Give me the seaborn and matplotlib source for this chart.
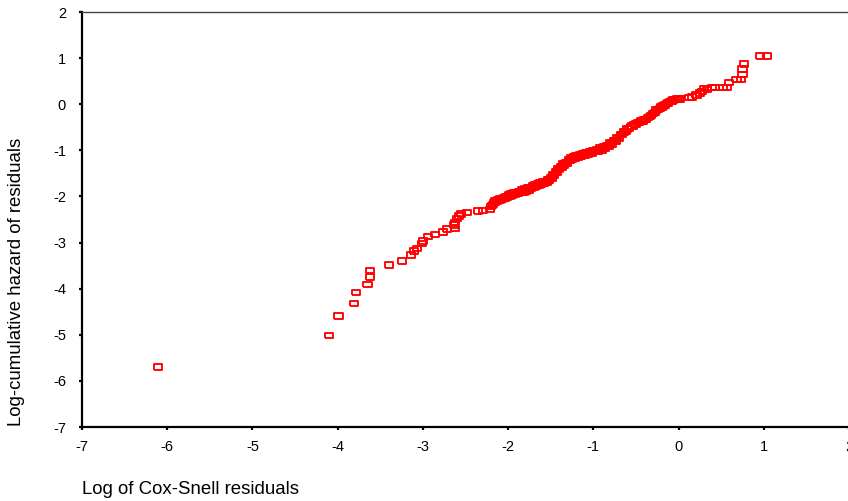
import numpy as np
import pandas as pd
import matplotlib
matplotlib.use("Agg")
import matplotlib.pyplot as plt
import seaborn as sns

# Log of Cox-Snell residuals (x) and log cumulative hazard of the residuals (y)
log_cox_snell = [
    -6.11, -4.10, -3.99, -3.81, -3.78, -3.65, -3.62, -3.62, -3.40, -3.24,
    -3.14, -3.10, -3.07, -3.01, -3.00, -2.94, -2.86, -2.76, -2.72, -2.62,
    -2.63, -2.62, -2.60, -2.58, -2.55, -2.48, -2.35, -2.29, -2.21, -2.20,
    -2.18, -2.16, -2.13, -2.10, -2.07, -2.04, -2.01, -1.98, -1.95, -1.92,
    -1.89, -1.85, -1.82, -1.79, -1.76, -1.73, -1.70, -1.67, -1.64, -1.61,
    -1.58, -1.55, -1.52, -1.49, -1.46, -1.43, -1.40, -1.37, -1.34, -1.31,
    -1.28, -1.25, -1.22, -1.18, -1.14, -1.10, -1.06, -1.02, -0.98, -0.94,
    -0.90, -0.86, -0.82, -0.78, -0.74, -0.70, -0.66, -0.62, -0.58, -0.54,
    -0.50, -0.46, -0.42, -0.38, -0.34, -0.30, -0.26, -0.22, -0.18, -0.14,
    -0.10, -0.06, -0.02, 0.02, 0.12, 0.16, 0.21, 0.25, 0.28, 0.30,
    0.33, 0.39, 0.43, 0.52, 0.57, 0.59, 0.68, 0.73, 0.75, 0.75,
    0.77, 0.96, 1.04,
    -2.19, -2.15, -2.12, -2.09, -2.05, -2.02, -1.99, -1.96, -1.93, -1.90,
    -1.87, -1.84, -1.80, -1.77, -1.74, -1.71, -1.68, -1.65, -1.62, -1.59,
    -1.56, -1.53, -1.50, -1.47, -1.44, -1.41, -1.38, -1.35, -1.32, -1.29,
    -1.26, -1.23, -1.20, -1.16, -1.12, -1.08, -1.04, -1.00, -0.96, -0.92,
    -0.88, -0.84, -0.80, -0.76, -0.72, -0.68, -0.64, -0.60, -0.56, -0.52,
    -0.48, -0.44, -0.40, -0.36, -0.32, -0.28, -0.24, -0.20, -0.16, -0.12,
    -0.08, -0.04, 0.00,
]
log_cum_hazard = [
    -5.70, -5.01, -4.59, -4.32, -4.08, -3.91, -3.75, -3.61, -3.49, -3.40,
    -3.27, -3.18, -3.13, -3.02, -2.97, -2.87, -2.83, -2.77, -2.71, -2.69,
    -2.62, -2.56, -2.48, -2.42, -2.38, -2.35, -2.32, -2.31, -2.28, -2.22,
    -2.17, -2.13, -2.11, -2.09, -2.06, -2.04, -2.02, -2.00, -1.98, -1.96,
    -1.94, -1.92, -1.90, -1.88, -1.86, -1.83, -1.80, -1.78, -1.76, -1.74,
    -1.72, -1.70, -1.66, -1.60, -1.54, -1.47, -1.42, -1.37, -1.32, -1.27,
    -1.22, -1.19, -1.17, -1.15, -1.13, -1.11, -1.09, -1.06, -1.03, -1.01,
    -0.99, -0.96, -0.92, -0.86, -0.80, -0.73, -0.66, -0.59, -0.53, -0.47,
    -0.43, -0.40, -0.37, -0.33, -0.27, -0.20, -0.13, -0.09, -0.04, 0.02,
    0.06, 0.09, 0.11, 0.11, 0.14, 0.16, 0.20, 0.24, 0.27, 0.34,
    0.32, 0.36, 0.36, 0.36, 0.36, 0.47, 0.54, 0.54, 0.65, 0.76,
    0.87, 1.05, 1.05,
    -2.20, -2.10, -2.08, -2.05, -2.03, -2.00, -1.97, -1.95, -1.93, -1.91,
    -1.89, -1.86, -1.84, -1.82, -1.80, -1.77, -1.75, -1.73, -1.71, -1.69,
    -1.68, -1.64, -1.59, -1.52, -1.47, -1.40, -1.36, -1.30, -1.26, -1.21,
    -1.17, -1.14, -1.12, -1.10, -1.08, -1.06, -1.04, -1.00, -0.98, -0.95,
    -0.92, -0.89, -0.84, -0.79, -0.72, -0.66, -0.60, -0.54, -0.48, -0.44,
    -0.40, -0.36, -0.33, -0.29, -0.24, -0.18, -0.12, -0.06, -0.02, 0.03,
    0.07, 0.10, 0.12,
]

x_ticks = [-7, -6, -5, -4, -3, -2, -1, 0, 1, 2]
y_ticks = [-7, -6, -5, -4, -3, -2, -1, 0, 1, 2]

df = pd.DataFrame({"x": log_cox_snell, "y": log_cum_hazard})

sns.set_style("white")
plt.rcParams["font.family"] = ["Liberation Sans", "DejaVu Sans"]

fig = plt.figure(figsize=(8.48, 5.01), dpi=100)
ax = fig.add_axes([82 / 848, 74 / 501, 767 / 848, 415 / 501])

# hollow, slightly wide rectangle marker
rect = [(-0.7, -0.47), (0.7, -0.47), (0.7, 0.47), (-0.7, 0.47), (-0.7, -0.47)]
sns.scatterplot(data=df, x="x", y="y", ax=ax, marker=rect, s=34,
                facecolor="none", edgecolor="#ff0000", linewidth=1.35,
                legend=False)

ax.set_xlim(-7, 2)
ax.set_ylim(-7, 2)
ax.set_xticks(x_ticks)
ax.set_yticks(y_ticks)
ax.set_xticklabels([str(t) for t in x_ticks])
ax.set_yticklabels([str(t) for t in y_ticks])
ax.set_xlabel("")
ax.set_ylabel("")

for side in ("left", "bottom"):
    ax.spines[side].set_color("black")
    ax.spines[side].set_linewidth(1.6)
ax.spines["top"].set_color("#444444")
ax.spines["top"].set_linewidth(1.0)
ax.spines["right"].set_visible(False)

ax.tick_params(axis="both", direction="out", length=2.5, width=1.6,
               color="black", labelsize=10.5, labelcolor="black")
ax.tick_params(axis="y", pad=9)
ax.tick_params(axis="x", pad=7)
ax.tick_params(left=True, bottom=True)

fig.text(82 / 848, 1 - 490 / 501, "Log of Cox-Snell residuals",
         ha="left", va="center", fontsize=13.4, color="black")
fig.text(17 / 848, 75 / 501, "Log-cumulative hazard of residuals",
         rotation=90, ha="center", va="bottom", fontsize=13.4, color="black")

fig.savefig("out.png", dpi=100, facecolor="white")
